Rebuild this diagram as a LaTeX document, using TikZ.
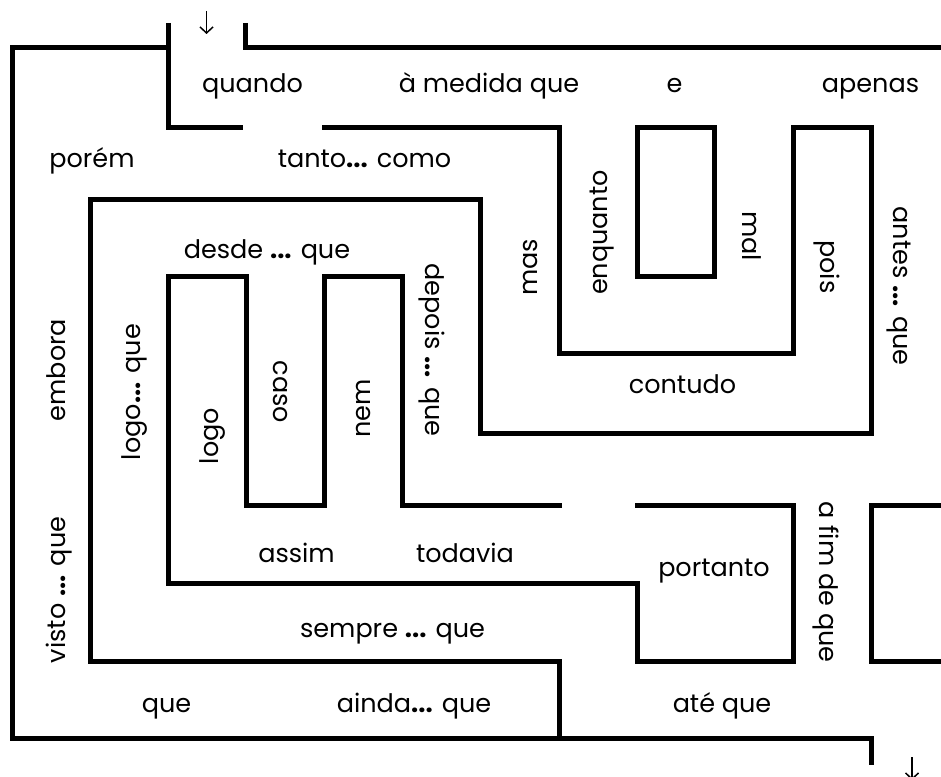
\documentclass[tikz,border=0pt]{standalone}
\usepackage{fontspec}
\setmainfont{Poppins}
\usetikzlibrary{arrows.meta}
\newcommand\mydots{\textbf{...}}
\begin{document}
\begin{tikzpicture}[x=1pt,y=-1pt,
  wall/.style={line width=5pt, line join=miter, line cap=butt},
  lbl/.style={font=\fontsize{25.5}{30}\selectfont, anchor=base, inner sep=0pt},
  up/.style={lbl, rotate=90},
  down/.style={lbl, rotate=-90},
  arr/.style={line width=1.5pt, -{Straight Barb[length=6pt,width=13pt]}}]
\useasboundingbox (0,0) rectangle (941,776);
\fill[white] (0,0) rectangle (941,776);
% walls
\draw[wall] (168.5,47.5) -- (12.5,47.5) -- (12.5,738.5) -- (871.5,738.5) -- (871.5,765);
\draw[wall] (168.5,23) -- (168.5,127) -- (243,127);
\draw[wall] (245.5,23) -- (245.5,47.5) -- (941,47.5);
\draw[wall] (322,127) -- (559.5,127) -- (559.5,353.5) -- (793,353.5) -- (793,127)
  -- (871.5,127) -- (871.5,433) -- (480.5,433) -- (480.5,199.5) -- (90.5,199.5)
  -- (90.5,661.5) -- (559.5,661.5) -- (559.5,738.5);
\draw[wall] (637.5,127) rectangle (714.5,276.5);
\draw[wall] (562,505) -- (402.5,505) -- (402.5,276.5) -- (324.5,276.5) -- (324.5,505)
  -- (246.5,505) -- (246.5,276.5) -- (168.5,276.5) -- (168.5,583.5) -- (637.5,583.5)
  -- (637.5,661.5) -- (793.5,661.5) -- (793.5,505) -- (635,505);
\draw[wall] (941,505) -- (871.5,505) -- (871.5,661.5) -- (941,661.5);
% arrows
\coordinate (inA) at (206.5,11);
\coordinate (inB) at (206.5,34);
\coordinate (outA) at (912,757);
\coordinate (outB) at (912,780);
\draw[arr] (inA) -- (inB);
\draw[arr] (outA) -- (outB);
% horizontal labels
\node[lbl] (quando) at (252.5,92) {quando};
\node[lbl] (medida) at (489,92) {à medida que};
\node[lbl] (e) at (674.5,92) {e};
\node[lbl] (apenas) at (870.5,92) {apenas};
\node[lbl] (porem) at (92,167) {porém};
\node[lbl] (tanto) at (364.5,167) {tanto\mydots{} como};
\node[lbl] (desde) at (267,258) {desde \mydots{} que};
\node[lbl] (contudo) at (682.5,393) {contudo};
\node[lbl] (assim) at (296.5,562) {assim};
\node[lbl] (todavia) at (465,562) {todavia};
\node[lbl] (portanto) at (714,576) {portanto};
\node[lbl] (sempre) at (392.5,637) {sempre \mydots{} que};
\node[lbl] (que) at (166.5,712) {que};
\node[lbl] (ainda) at (414,712) {ainda\mydots{} que};
\node[lbl] (ate) at (722,712) {até que};
% vertical labels, reading upwards
\node[up] (embora) at (65,370) {embora};
\node[up] (logoque) at (140,392) {logo\mydots{} que};
\node[up] (logo) at (218,436) {logo};
\node[up] (nem) at (370,408.5) {nem};
\node[up] (mas) at (537,267.5) {mas};
\node[up] (enquanto) at (607,232.5) {enquanto};
\node[up] (visto) at (65,590) {visto \mydots{} que};
% vertical labels, reading downwards
\node[down] (caso) at (273,392) {caso};
\node[down] (depois) at (425,350) {depois \mydots{} que};
\node[down] (mal) at (742,236) {mal};
\node[down] (pois) at (820,267) {pois};
\node[down] (antes) at (893,286) {antes \mydots{} que};
\node[down] (afim) at (819,582) {a fim de que};
\end{tikzpicture}
\end{document}
